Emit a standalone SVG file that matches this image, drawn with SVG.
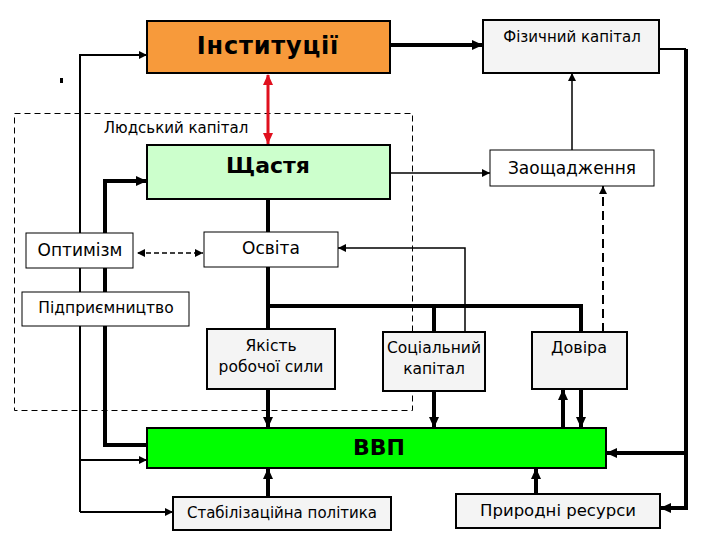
<svg xmlns="http://www.w3.org/2000/svg" width="720" height="540" viewBox="0 0 720 540">
<style>
  text { font-family: "DejaVu Sans", "Liberation Sans", sans-serif; fill: #000; text-anchor: middle; }
  .b { font-weight: bold; font-size: 22px; }
  .box1 { stroke: #000; stroke-width: 1; }
  .box2 { stroke: #000; stroke-width: 2; }
  .gray { fill: #F4F4F4; }
  .white { fill: #FFFFFF; }
  .thick { fill: none; stroke: #000; stroke-width: 4; }
  .thin { fill: none; stroke: #000; stroke-width: 1.5; }
  .mid { fill: none; stroke: #000; stroke-width: 2; }
</style>
<defs>
  <marker id="ab" markerUnits="userSpaceOnUse" markerWidth="12" markerHeight="10" refX="11" refY="5" orient="auto">
    <path d="M0,0 L11,5 L0,10 Z" fill="#000"/>
  </marker>
  <marker id="as" markerUnits="userSpaceOnUse" markerWidth="9" markerHeight="8" refX="8" refY="4" orient="auto">
    <path d="M0,0 L8,4 L0,8 Z" fill="#000"/>
  </marker>
  <marker id="asStart" markerUnits="userSpaceOnUse" markerWidth="9" markerHeight="8" refX="1" refY="4" orient="auto">
    <path d="M8,0 L0,4 L8,8 Z" fill="#000"/>
  </marker>
  <marker id="ar" markerUnits="userSpaceOnUse" markerWidth="12" markerHeight="10" refX="11" refY="5" orient="auto">
    <path d="M0,0 L11,5 L0,10 Z" fill="#E0101E"/>
  </marker>
  <marker id="arStart" markerUnits="userSpaceOnUse" markerWidth="12" markerHeight="10" refX="1" refY="5" orient="auto">
    <path d="M11,0 L0,5 L11,10 Z" fill="#E0101E"/>
  </marker>
</defs>
<rect width="720" height="540" fill="#FFFFFF"/>

<g id="human-capital">
  <rect x="14.5" y="113.5" width="398" height="297" fill="none" stroke="#000" stroke-width="1" stroke-dasharray="6 4"/>
  <text x="176" y="133" font-size="15">Людський капітал</text>
</g>

<rect x="60" y="78" width="3" height="5" fill="#000"/>

<g id="connectors">
  <path class="thick" d="M390,45 H483" marker-end="url(#ab)"/>
  <path class="mid" d="M659,49 H686"/>
  <path class="thick" d="M686,49 V508 H660" marker-end="url(#ab)"/>
  <path class="thick" d="M686,453 H606" marker-end="url(#ab)"/>
  <path d="M268,75 V144" fill="none" stroke="#E0101E" stroke-width="3" marker-start="url(#arStart)" marker-end="url(#ar)"/>
  <path class="mid" d="M80,512 V55 H147" marker-end="url(#as)"/>
  <path class="mid" d="M80,460 H147" marker-end="url(#as)"/>
  <path class="mid" d="M80,512 H173" marker-end="url(#as)"/>
  <path class="thick" d="M147,445 H105 V181 H147" marker-end="url(#ab)"/>
  <path class="thick" d="M268,199 V428" marker-end="url(#ab)"/>
  <path class="thick" d="M266,306 H583"/>
  <path class="thick" d="M581,304 V428" marker-end="url(#ab)"/>
  <path class="thick" d="M434,306 V428" marker-end="url(#ab)"/>
  <path class="thick" d="M563,428 V389" marker-end="url(#ab)"/>
  <path class="thin" d="M465,332 V248 H338" marker-end="url(#as)"/>
  <path d="M603,332 V186" fill="none" stroke="#000" stroke-width="2" stroke-dasharray="9 5" marker-end="url(#as)"/>
  <path class="thin" d="M572,150 V73" marker-end="url(#as)"/>
  <path class="thin" d="M390,173 H490" marker-end="url(#as)"/>
  <path d="M138,253 H203" fill="none" stroke="#000" stroke-width="1.5" stroke-dasharray="5 3" marker-start="url(#asStart)" marker-end="url(#as)"/>
  <path class="thick" d="M268,497 V468" marker-end="url(#ab)"/>
  <path class="thick" d="M536,494 V468" marker-end="url(#ab)"/>
</g>

<g id="institutions">
  <rect x="147" y="21" width="243" height="52" fill="#F79A3B" class="box2"/>
  <text x="268" y="54" class="b" font-size="24" style="font-size:24px" letter-spacing="0.8">Інституції</text>
</g>
<g id="physical-capital">
  <rect x="483" y="20" width="176" height="53" class="box2 gray"/>
  <text x="572" y="42" font-size="15">Фізичний капітал</text>
</g>
<g id="happiness">
  <rect x="147" y="145" width="243" height="54" fill="#CCFFCC" class="box2"/>
  <text x="268" y="173" class="b">Щастя</text>
</g>
<g id="savings">
  <rect x="490" y="150" width="164" height="36" class="box1 white"/>
  <text x="572" y="174" font-size="17">Заощадження</text>
</g>
<g id="optimism">
  <rect x="26" y="233" width="107" height="35" class="box1 white"/>
  <text x="80" y="256" font-size="17">Оптимізм</text>
</g>
<g id="education">
  <rect x="204" y="232" width="134" height="35" class="box1 white"/>
  <text x="271" y="254" font-size="17">Освіта</text>
</g>
<g id="entrepreneurship">
  <rect x="22" y="292" width="167" height="34" class="box1 white"/>
  <text x="106" y="313" font-size="15.5">Підприємництво</text>
</g>
<g id="labour-quality">
  <rect x="207" y="329" width="128" height="60" class="box2 gray"/>
  <text x="271" y="351" font-size="15.5">Якість</text>
  <text x="271" y="372" font-size="15.5">робочої сили</text>
</g>
<g id="social-capital">
  <rect x="383" y="332" width="102" height="59" class="box2 gray"/>
  <text x="434" y="353" font-size="15.5">Соціальний</text>
  <text x="434" y="374" font-size="15.5">капітал</text>
</g>
<g id="trust">
  <rect x="532" y="332" width="95" height="57" class="box2 gray"/>
  <text x="579" y="353" font-size="16">Довіра</text>
</g>
<g id="gdp">
  <rect x="147" y="428" width="459" height="40" fill="#00FF00" class="box2"/>
  <text x="379" y="455" class="b">ВВП</text>
</g>
<g id="stabilization-policy">
  <rect x="173" y="497" width="218" height="33" class="box2 gray"/>
  <text x="282" y="518" font-size="15">Стабілізаційна політика</text>
</g>
<g id="natural-resources">
  <rect x="456" y="494" width="204" height="34" class="box2 gray"/>
  <text x="558" y="516" font-size="16.5">Природні ресурси</text>
</g>
</svg>
